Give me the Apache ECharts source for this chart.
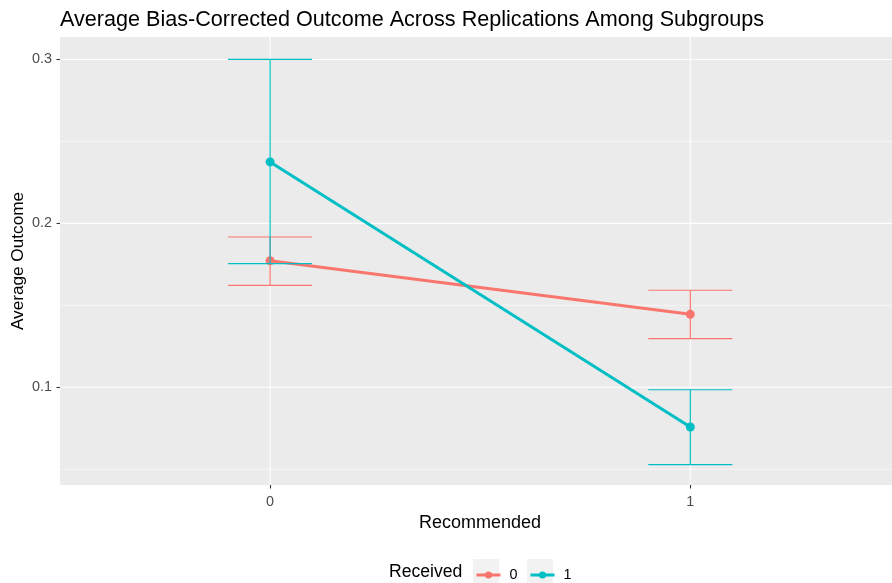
<!DOCTYPE html>
<html>
<head>
<meta charset="utf-8">
<script src="https://cdn.jsdelivr.net/npm/echarts@6/dist/echarts.min.js"></script>
<style>
html,body{margin:0;padding:0;background:#fff;}
#chart{width:892px;height:583px;}
</style>
</head>
<body>
<div id="chart"></div>
<script>
// Data
const recommended = [0, 1];
const xTickLabels = ['0', '1'];
const groups = ['0', '1'];
const meanReceived0 = [0.1772, 0.1445];
const lowReceived0  = [0.1622, 0.1297];
const highReceived0 = [0.1917, 0.1592];
const meanReceived1 = [0.2375, 0.0758];
const lowReceived1  = [0.1754, 0.0528];
const highReceived1 = [0.3001, 0.0985];
const yMajorTicks = [0.1, 0.2, 0.3];
const yMinorTicks = [0.05, 0.15, 0.25];

const colors = ['#F8766D', '#00BFC4'];
const FONT = '"Liberation Sans", Arial, sans-serif';

const chart = echarts.init(document.getElementById('chart'), null, {renderer: 'canvas'});

// one custom series draws the panel grid lines: item = [value, isVertical]
function gridRender(params, api) {
  const cs = params.coordSys;
  const v = api.value(0);
  const vertical = api.value(1) === 1;
  if (vertical) {
    const x = api.coord([v, yMajorTicks[1]])[0];
    return {type: 'line', shape: {x1: x, y1: cs.y, x2: x, y2: cs.y + cs.height},
      style: {stroke: '#FFFFFF', lineWidth: 1.1}, silent: true};
  }
  const y = api.coord([0.5, v])[1];
  const major = yMajorTicks.some(t => Math.abs(t - v) < 1e-9);
  return {type: 'line', shape: {x1: cs.x, y1: y, x2: cs.x + cs.width, y2: y},
    style: {stroke: '#FFFFFF', lineWidth: major ? 1.1 : 0.55}, silent: true};
}
function errRender(color) {
  return function (params, api) {
    const x = api.value(0);
    const top = api.coord([x, api.value(2)]);
    const bot = api.coord([x, api.value(1)]);
    const half = api.size([0.1, 0])[0];
    const st = {stroke: color, lineWidth: 1.2};
    return {type: 'group', children: [
      {type: 'line', shape: {x1: top[0], y1: top[1], x2: bot[0], y2: bot[1]}, style: st},
      {type: 'line', shape: {x1: top[0] - half, y1: top[1], x2: top[0] + half, y2: top[1]}, style: st},
      {type: 'line', shape: {x1: bot[0] - half, y1: bot[1], x2: bot[0] + half, y2: bot[1]}, style: st}
    ]};
  };
}

const means = [meanReceived0, meanReceived1];
const lows = [lowReceived0, lowReceived1];
const highs = [highReceived0, highReceived1];

const gridItems = yMinorTicks.concat(yMajorTicks).map(v => [v, 0])
  .concat(recommended.map(v => [v, 1]));

const series = [
  {type: 'custom', name: 'panelgrid', z: 1, silent: true, renderItem: gridRender,
   encode: {x: -1, y: -1}, dimensions: ['v', 'orient'], data: gridItems}
];
groups.forEach((g, i) => {
  series.push({
    type: 'line', name: g, z: 2 + i, color: colors[i],
    data: recommended.map((x, j) => [x, means[i][j]]),
    symbol: 'circle', symbolSize: 9, showSymbol: true,
    lineStyle: {width: 3, color: colors[i]},
    itemStyle: {color: colors[i]},
    animation: false
  });
});
groups.forEach((g, i) => {
  series.push({
    type: 'custom', name: 'err' + g, z: 5 + i, silent: true,
    renderItem: errRender(colors[i]), encode: {x: 0, y: [1, 2]},
    data: recommended.map((x, j) => [x, lows[i][j], highs[i][j]])
  });
});

const legendText = {fontFamily: FONT, fontSize: 14.4, color: '#000000', padding: [0, 0, 0, 4]};

const option = {
  animation: false,
  backgroundColor: '#FFFFFF',
  title: {
    text: 'Average Bias-Corrected Outcome Across Replications Among Subgroups',
    left: 60, top: 9, padding: 0,
    textStyle: {fontFamily: FONT, fontSize: 21.6, fontWeight: 'normal', color: '#000000'}
  },
  grid: {left: 60, right: 0, top: 37, bottom: 98, show: true, backgroundColor: '#EBEBEB', borderWidth: 0,
    containLabel: false, outerBoundsMode: 'none'},
  xAxis: {
    type: 'value', min: -0.5, max: 1.48,
    axisLine: {show: false, onZero: false},
    splitLine: {show: false},
    axisTick: {show: true, length: 3.5, customValues: recommended, lineStyle: {color: '#333333', width: 1.1}},
    axisLabel: {customValues: recommended, formatter: v => xTickLabels[recommended.indexOf(v)],
      color: '#4D4D4D', fontFamily: FONT, fontSize: 14.4, margin: 10},
    name: 'Recommended', nameLocation: 'middle', nameGap: 29,
    nameTextStyle: {fontFamily: FONT, fontSize: 18, color: '#000000', padding: [0, 0, 0, 8]}
  },
  yAxis: {
    type: 'value', min: 0.0404, max: 0.3137,
    axisLine: {show: false, onZero: false},
    splitLine: {show: false},
    axisTick: {show: true, length: 3.5, customValues: yMajorTicks, lineStyle: {color: '#333333', width: 1.1}},
    axisLabel: {customValues: yMajorTicks, formatter: v => v.toFixed(1),
      color: '#4D4D4D', fontFamily: FONT, fontSize: 14.4, margin: 8},
    name: 'Average Outcome', nameLocation: 'middle', nameGap: 33, nameRotate: 90,
    nameMoveOverlap: false,
    nameTextStyle: {fontFamily: FONT, fontSize: 17.2, color: '#000000'}
  },
  legend: [
    {data: ['0'], left: 470, top: 563, itemWidth: 24, itemHeight: 9, textStyle: legendText,
     lineStyle: {width: 3}},
    {data: ['1'], left: 524, top: 563, itemWidth: 24, itemHeight: 9, textStyle: legendText,
     lineStyle: {width: 3}}
  ],
  graphic: [
    {type: 'rect', z: 0, shape: {x: 473, y: 559, width: 26, height: 26}, style: {fill: '#F2F2F2'}, silent: true},
    {type: 'rect', z: 0, shape: {x: 527, y: 559, width: 26, height: 26}, style: {fill: '#F2F2F2'}, silent: true},
    {type: 'text', z: 5, x: 389, y: 572, style: {text: 'Received', fontFamily: FONT, fontSize: 17.6,
      fill: '#000000', verticalAlign: 'middle'}}
  ],
  series: series
};
chart.setOption(option);
</script>
</body>
</html>
